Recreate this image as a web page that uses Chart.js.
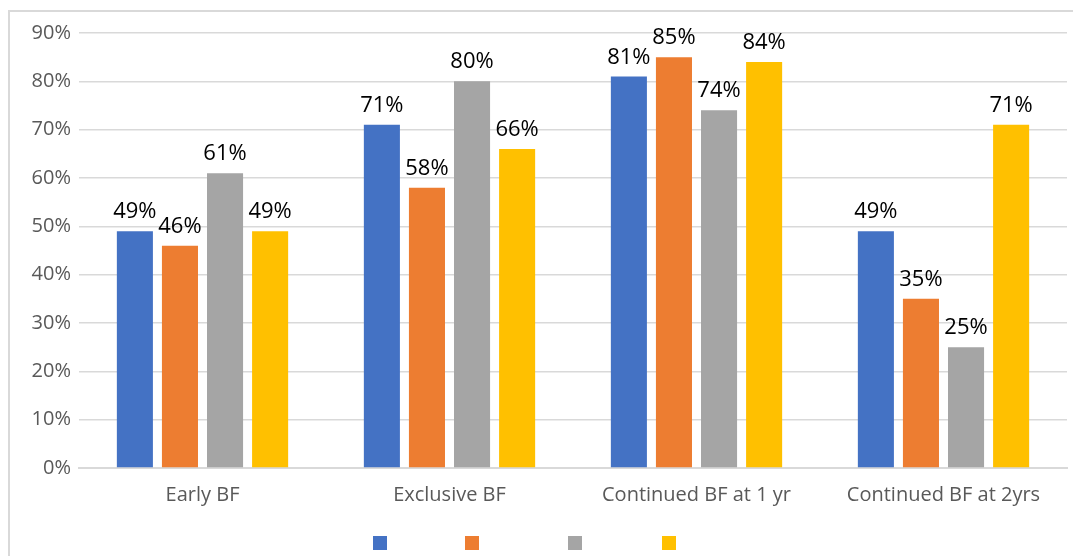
<!DOCTYPE html>
<html>
<head>
<meta charset="utf-8">
<script src="https://cdn.jsdelivr.net/npm/chart.js@4/dist/chart.umd.min.js"></script>
<style>
    html, body { margin: 0; padding: 0; background: #fff; overflow: hidden; }
    canvas { display: block; }
</style>
</head>
<body>
<canvas id="bf-chart" width="1075" height="556"></canvas>
<script>
// Breastfeeding rates by group
const categories = ['Early BF', 'Exclusive BF', 'Continued BF at 1 yr', 'Continued BF at 2yrs'];
const seriesA = [49, 71, 81, 49];
const seriesB = [46, 58, 85, 35];
const seriesC = [61, 80, 74, 25];
const seriesD = [49, 66, 84, 71];
const yTicks = [0, 10, 20, 30, 40, 50, 60, 70, 80, 90];
const colors = ['#4472C4', '#ED7D31', '#A5A5A5', '#FFC000'];

const axisFont = { family: "'Open Sans', sans-serif", size: 20 };

// outer frame: left and top edges of the chart box
const chartFrame = {
    id: 'chartFrame',
    beforeDraw(chart) {
        const ctx = chart.ctx;
        ctx.save();
        ctx.fillStyle = '#d9d9d9';
        ctx.fillRect(8, 10, 2, chart.height - 10);
        ctx.fillRect(8, 10, chart.width - 10, 2);
        ctx.restore();
    }
};

// value labels above each bar
const barLabels = {
    id: 'barLabels',
    afterDatasetsDraw(chart) {
        const ctx = chart.ctx;
        ctx.save();
        ctx.font = "22px 'Open Sans', sans-serif";
        ctx.fillStyle = '#000';
        ctx.textAlign = 'center';
        ctx.textBaseline = 'alphabetic';
        chart.data.datasets.forEach((ds, i) => {
            chart.getDatasetMeta(i).data.forEach((bar, j) => {
                ctx.fillText(ds.data[j] + '%', bar.x, bar.y - 13);
            });
        });
        ctx.restore();
    }
};

// legend keys only (no series names)
const legendKeys = {
    id: 'legendKeys',
    afterDraw(chart) {
        const ctx = chart.ctx;
        const size = 14, top = 536;
        const lefts = [373, 465, 568, 662];
        ctx.save();
        chart.data.datasets.forEach((ds, i) => {
            ctx.fillStyle = ds.backgroundColor;
            ctx.fillRect(lefts[i], top, size, size);
        });
        ctx.restore();
    }
};

const ctx = document.getElementById('bf-chart').getContext('2d');
const bfChart = new Chart(ctx, {
    type: 'bar',
    data: {
        labels: categories,
        datasets: [seriesA, seriesB, seriesC, seriesD].map((d, i) => ({
            label: '',
            data: d,
            backgroundColor: colors[i],
            borderWidth: 0,
            barPercentage: 0.8,
            categoryPercentage: 0.73
        }))
    },
    options: {
        responsive: false,
        animation: false,
        layout: { padding: { top: 33, right: 8, left: 0, bottom: 0 } },
        plugins: {
            legend: { display: false },
            tooltip: { enabled: false }
        },
        scales: {
            x: {
                grid: { display: false },
                border: { color: '#d9d9d9', width: 2 },
                ticks: { color: '#595959', font: axisFont, padding: 7, maxRotation: 0 },
                afterFit(scale) { scale.height = 88; }
            },
            y: {
                min: 0,
                max: 90,
                afterBuildTicks(scale) { scale.ticks = yTicks.map(v => ({ value: v })); },
                grid: { color: '#d9d9d9', lineWidth: 1.5, drawTicks: false },
                border: { display: false },
                ticks: {
                    color: '#595959',
                    font: axisFont,
                    padding: 8,
                    callback: v => v + '%'
                },
                afterFit(scale) { scale.width = 79; }
            }
        }
    },
    plugins: [chartFrame, barLabels, legendKeys]
});
</script>
</body>
</html>
